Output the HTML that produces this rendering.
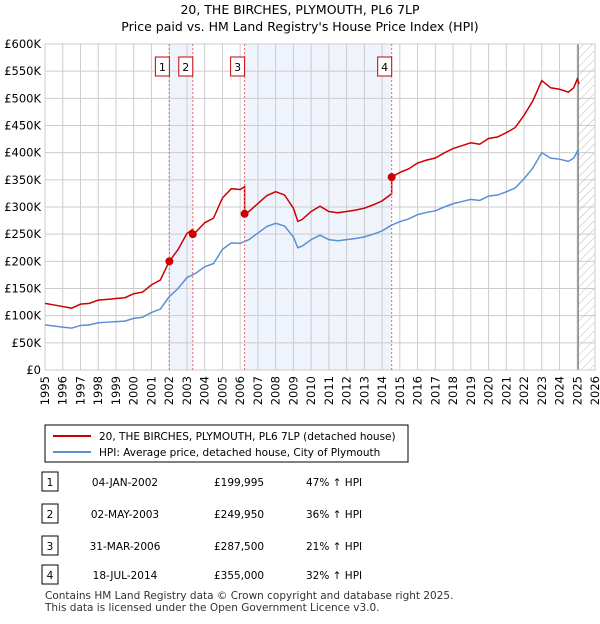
<!DOCTYPE html>
<html><head><meta charset="utf-8"><style>
body{margin:0;background:#fff;font-family:"DejaVu Sans",sans-serif;}
svg text{font-family:"DejaVu Sans","Liberation Sans",sans-serif;}
</style></head><body>
<svg id="c" width="600" height="620" xmlns="http://www.w3.org/2000/svg">
<text x="300" y="14" text-anchor="middle" font-size="12.5">20, THE BIRCHES, PLYMOUTH, PL6 7LP</text>
<text x="300" y="31" text-anchor="middle" font-size="12.5">Price paid vs. HM Land Registry's House Price Index (HPI)</text>
<g id="plot"></g>
<g>
<rect x="45" y="425" width="363" height="37" fill="#fff" stroke="#000" stroke-width="1"/>
<line x1="53" y1="436" x2="91" y2="436" stroke="#cc0000" stroke-width="2"/>
<text x="99" y="440" font-size="10.5">20, THE BIRCHES, PLYMOUTH, PL6 7LP (detached house)</text>
<line x1="53" y1="452" x2="91" y2="452" stroke="#5b8fd4" stroke-width="2"/>
<text x="99" y="456" font-size="10.5">HPI: Average price, detached house, City of Plymouth</text>
</g>
<g id="table"></g>
<text x="45" y="599" font-size="10.5" fill="#333">Contains HM Land Registry data © Crown copyright and database right 2025.</text>
<text x="45" y="611" font-size="10.5" fill="#333">This data is licensed under the Open Government Licence v3.0.</text>
</svg>
<script>
const hpiYears=[1995,1995.5,1996,1996.5,1997,1997.5,1998,1998.5,1999,1999.5,2000,2000.5,2001,2001.5,2002,2002.5,2003,2003.5,2004,2004.5,2005,2005.5,2006,2006.5,2007,2007.5,2008,2008.5,2009,2009.25,2009.5,2010,2010.5,2011,2011.5,2012,2012.5,2013,2013.5,2014,2014.5,2015,2015.5,2016,2016.5,2017,2017.5,2018,2018.5,2019,2019.5,2020,2020.5,2021,2021.5,2022,2022.5,2023,2023.5,2024,2024.5,2024.8,2025,2025.1];
const hpiValues=[83,81,79,77,82,83,87,88,89,90,95,97,106,112,135,150,170,178,190,196,222,234,233,240,252,264,270,265,245,225,228,240,248,240,238,240,242,245,250,256,266,273,278,286,290,293,300,306,310,314,312,320,322,328,335,352,372,400,390,388,384,390,402,395];
const saleDates=[2002.01,2003.33,2006.25,2014.54];
const salePrices=[199995,249950,287500,355000];
const saleLabels=["1","2","3","4"];
const saleDateText=["04-JAN-2002","02-MAY-2003","31-MAR-2006","18-JUL-2014"];
const salePriceText=["£199,995","£249,950","£287,500","£355,000"];
const saleHpiText=["47% ↑ HPI","36% ↑ HPI","21% ↑ HPI","32% ↑ HPI"];
const yTicks=[0,50000,100000,150000,200000,250000,300000,350000,400000,450000,500000,550000,600000];
const yTickLabels=["£0","£50K","£100K","£150K","£200K","£250K","£300K","£350K","£400K","£450K","£500K","£550K","£600K"];
const xTicks=[1995,1996,1997,1998,1999,2000,2001,2002,2003,2004,2005,2006,2007,2008,2009,2010,2011,2012,2013,2014,2015,2016,2017,2018,2019,2020,2021,2022,2023,2024,2025,2026];

const X0=45,X1=595,Y0=370,Y1=44;
const xs=y=>X0+(y-1995)/(2026-1995)*(X1-X0);
const ys=v=>Y0-v/600000*(Y0-Y1);
const NS="http://www.w3.org/2000/svg";
function mk(tag,attrs,parent){const e=document.createElementNS(NS,tag);for(const k in attrs)e.setAttribute(k,attrs[k]);parent.appendChild(e);return e;}
const plot=document.getElementById('plot');
function hpiAt(t){for(let i=1;i<hpiYears.length;i++){if(t<=hpiYears[i]){const f=(t-hpiYears[i-1])/(hpiYears[i]-hpiYears[i-1]);return (hpiValues[i-1]+f*(hpiValues[i]-hpiValues[i-1]))*1000;}}return hpiValues[hpiValues.length-1]*1000;}
for(let i=0;i<saleDates.length;i+=2){
 const r=mk('rect',{x:xs(saleDates[i]),y:Y1,width:xs(saleDates[i+1])-xs(saleDates[i]),height:Y0-Y1,fill:'#eef3fc'},plot);
 
 
}
const defs=mk('defs',{},plot);
const pat=mk('pattern',{id:'h',width:6,height:6,patternUnits:'userSpaceOnUse',patternTransform:'rotate(45)'},defs);
mk('line',{x1:0,y1:0,x2:0,y2:6,stroke:'#bbb','stroke-width':1},pat);
yTicks.forEach((v,i)=>{
 mk('line',{x1:X0,x2:X1,y1:ys(v),y2:ys(v),stroke:'#ccc','stroke-width':1},plot);
 const t=mk('text',{x:X0-4,y:ys(v)+4,'text-anchor':'end','font-size':11.5},plot);t.textContent=yTickLabels[i];
 
 
});
xTicks.forEach(y=>{
 mk('line',{x1:xs(y),x2:xs(y),y1:Y1,y2:Y0,stroke:'#ccc','stroke-width':1},plot);
 const t=mk('text',{x:0,y:0,'text-anchor':'end','font-size':11.5,transform:`translate(${xs(y)+4},${Y0+6}) rotate(-90)`},plot);t.textContent=y;
 
 
});
const hz=mk('rect',{x:xs(2025.05),y:Y1,width:X1-xs(2025.05),height:Y0-Y1,fill:'url(#h)'},plot);


mk('line',{x1:xs(2025.05),x2:xs(2025.05),y1:Y1,y2:Y0,stroke:'#888','stroke-width':1.5},plot);
mk('rect',{x:X0,y:Y1,width:X1-X0,height:Y0-Y1,fill:'none',stroke:'#ccc'},plot);
const hp=mk('polyline',{points:hpiYears.map((y,i)=>xs(y)+','+ys(hpiValues[i]*1000)).join(' '),fill:'none',stroke:'#5b8fd4','stroke-width':1.5},plot);


const ratios=saleDates.map((d,i)=>salePrices[i]/hpiAt(d));
const pts=[];
function ratioAt(t){let r=ratios[0];for(let i=0;i<saleDates.length;i++)if(t>=saleDates[i])r=ratios[i];return r;}
const times=hpiYears.concat(saleDates).sort((a,b)=>a-b);
times.forEach(t=>{
 const k=saleDates.indexOf(t);
 if(k>0)pts.push(xs(t)+','+ys(hpiAt(t)*ratios[k-1]));
 pts.push(xs(t)+','+ys(hpiAt(t)*ratioAt(t)));
});
const pl=mk('polyline',{points:pts.join(' '),fill:'none',stroke:'#cc0000','stroke-width':1.5},plot);


saleDates.forEach((d,i)=>{
 const ln=mk('line',{x1:xs(d),x2:xs(d),y1:Y1,y2:Y0,stroke:'#e66','stroke-width':1,'stroke-dasharray':'2,2'},plot);
 
 
 const c=mk('circle',{cx:xs(d),cy:ys(salePrices[i]),r:4,fill:'#cc0000'},plot);
 
 
 const b=mk('rect',{x:xs(d)-14,y:57,width:14,height:19,fill:'#fff',stroke:'#cc0000'},plot);
 
 
 const t=mk('text',{x:xs(d)-7,y:71,'text-anchor':'middle','font-size':11},plot);t.textContent=saleLabels[i];
 
 
});
const tb=document.getElementById('table');
const rowY=[482,514,546,575];
saleDates.forEach((d,i)=>{
 const y=rowY[i];
 const b=mk('rect',{x:42,y:y-10,width:16,height:19,fill:'#fff',stroke:'#000'},tb);
 
 
 const cells=[[50,'middle',saleLabels[i]],[125,'middle',saleDateText[i]],[214,'start',salePriceText[i]],[306,'start',saleHpiText[i]]];
 cells.forEach(c=>{const t=mk('text',{x:c[0],y:y+4,'text-anchor':c[1],'font-size':10.5},tb);t.textContent=c[2];
 
 });
});
</script>
</body></html>
